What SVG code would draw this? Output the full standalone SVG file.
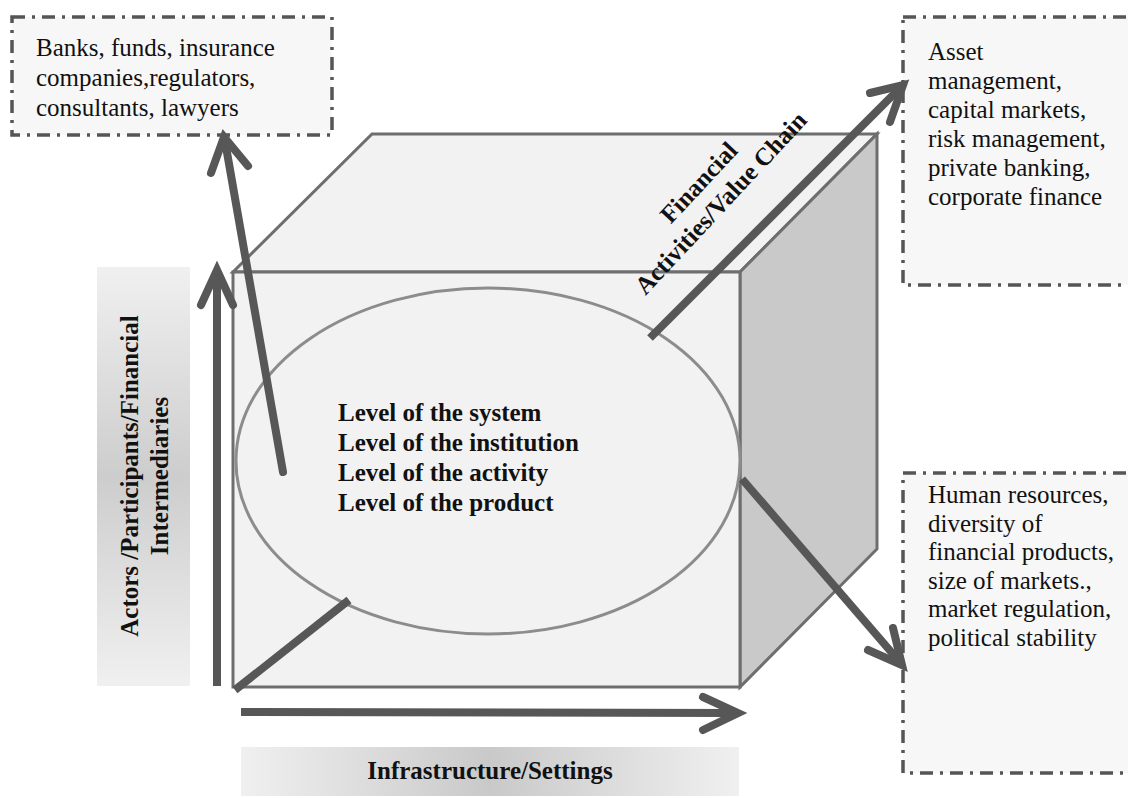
<svg xmlns="http://www.w3.org/2000/svg" width="1128" height="798" viewBox="0 0 1128 798">
<defs>
<linearGradient id="gv" x1="0" y1="0" x2="0" y2="1">
<stop offset="0" stop-color="#f0f0f0"/>
<stop offset="0.5" stop-color="#cdcdcd"/>
<stop offset="1" stop-color="#f0f0f0"/>
</linearGradient>
<linearGradient id="gh" x1="0" y1="0" x2="1" y2="0">
<stop offset="0" stop-color="#f0f0f0"/>
<stop offset="0.5" stop-color="#c9c9c9"/>
<stop offset="1" stop-color="#f0f0f0"/>
</linearGradient>
</defs>
<style>
.box{fill:#f7f7f7;stroke:#555555;stroke-width:3.5;stroke-dasharray:13 7 3 7}
.t{font-family:"Liberation Serif","Times New Roman",serif;font-size:25px;fill:#111}
.b{font-family:"Liberation Serif","Times New Roman",serif;font-size:25px;font-weight:bold;fill:#111}
.face{fill:#f2f2f2;stroke:#6e6e6e;stroke-width:3}
.side{fill:#c9c9c9;stroke:#6e6e6e;stroke-width:3}
.ar{fill:none;stroke:#575757;stroke-width:8;stroke-linecap:round;stroke-linejoin:miter}
.ln{fill:none;stroke:#575757;stroke-width:8;stroke-linecap:butt}
</style>
<rect width="1128" height="798" fill="#ffffff"/>

<g id="axis-actors-label">
<rect x="97" y="267" width="93" height="419" fill="url(#gv)"/>
<g transform="translate(143,476) rotate(-90)">
<text class="b" x="0" y="-5" text-anchor="middle">Actors /Participants/Financial</text>
<text class="b" x="0" y="25" text-anchor="middle">Intermediaries</text>
</g>
</g>

<g id="axis-infra-label">
<rect x="241" y="747" width="498" height="49" fill="url(#gh)"/>
<text class="b" x="490" y="779" text-anchor="middle">Infrastructure/Settings</text>
</g>

<g id="cube">
<polygon class="face" points="233,272 372,134 877,134 740,272"/>
<polygon class="side" points="740,272 877,134 877,549 740,687"/>
<rect class="face" x="233" y="272" width="507" height="415"/>
</g>

<g id="levels">
<ellipse cx="488" cy="461" rx="252" ry="173" fill="#f2f2f2" stroke="#8c8c8c" stroke-width="3"/>
<text class="b" x="338" y="421">Level of the system</text>
<text class="b" x="338" y="451">Level of the institution</text>
<text class="b" x="338" y="481">Level of the activity</text>
<text class="b" x="338" y="511">Level of the product</text>
</g>

<g id="box-actors">
<rect class="box" x="12" y="17" width="320" height="118"/>
<text class="t" x="36" y="56">Banks, funds, insurance</text>
<text class="t" x="36" y="86">companies,regulators,</text>
<text class="t" x="36" y="116">consultants, lawyers</text>
</g>

<g id="box-activities">
<rect class="box" x="903" y="17" width="240" height="268"/>
<text class="t" x="928" y="60">Asset</text>
<text class="t" x="928" y="89">management,</text>
<text class="t" x="928" y="118">capital markets,</text>
<text class="t" x="928" y="147">risk management,</text>
<text class="t" x="928" y="176">private banking,</text>
<text class="t" x="928" y="205">corporate finance</text>
</g>

<g id="box-infra">
<rect class="box" x="903" y="473" width="240" height="300"/>
<text class="t" x="928" y="503">Human resources,</text>
<text class="t" x="928" y="532">diversity of</text>
<text class="t" x="928" y="560">financial products,</text>
<text class="t" x="928" y="589">size of markets.,</text>
<text class="t" x="928" y="617">market regulation,</text>
<text class="t" x="928" y="646">political stability</text>
</g>

<g id="activities-label">
<g transform="translate(710,193) rotate(-47)">
<text class="b" x="0" y="-7" text-anchor="middle">Financial</text>
<text class="b" x="0" y="23" text-anchor="middle">Activities/Value Chain</text>
</g>
</g>

<g id="connectors">
<line class="ln" x1="235" y1="690" x2="349" y2="600"/>
<line class="ln" x1="217" y1="686" x2="217" y2="272"/>
<polyline class="ar" points="201,305 217,270 233,305"/>
<line class="ln" x1="241" y1="712" x2="734" y2="713"/>
<polyline class="ar" points="703,697 738,713 703,730"/>
<line class="ar" x1="283" y1="472" x2="225" y2="141"/>
<polyline class="ar" points="211,173 224,137 248,166"/>
<line class="ln" x1="650" y1="338" x2="899" y2="89"/>
<polyline class="ar" points="870,93 903,85 890,122"/>
<line class="ln" x1="742" y1="479" x2="899" y2="661"/>
<polyline class="ar" points="868,650 902,665 893,628"/>
</g>
</svg>
